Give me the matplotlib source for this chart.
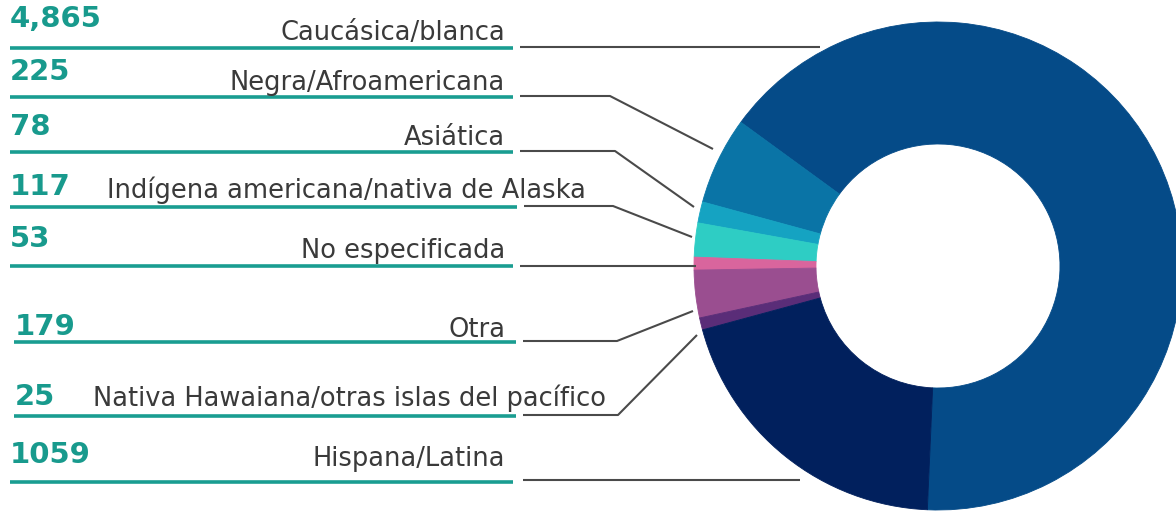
import matplotlib
matplotlib.use("Agg")
import matplotlib.pyplot as plt

# ---------------- data ----------------
categories = [
    "Caucásica/blanca",
    "Negra/Afroamericana",
    "Asiática",
    "Indígena americana/nativa de Alaska",
    "No especificada",
    "Otra",
    "Nativa Hawaiana/otras islas del pacífico",
    "Hispana/Latina",
]
count_labels = ["4,865", "225", "78", "117", "53", "179", "25", "1059"]
# share of the ring as drawn in the reference (percent of 360°)
arc_share_pct = [65.7, 5.8, 1.4, 2.25, 0.85, 3.15, 0.8, 20.1]
colors = ["#054b88", "#0a74a6", "#15a3c2", "#2ecdc4",
          "#d9659d", "#9a4e90", "#5a2d78", "#01205d"]

# ---------------- layout (pixel space, y measured from top) ----------------
W, H = 1176, 512
fig = plt.figure(figsize=(W / 100, H / 100), dpi=100)
ax = fig.add_axes([0, 0, 1, 1])

def Y(y):
    return H - y

cx, cy, R = 938, 266, 244
ax.pie(arc_share_pct, colors=colors, startangle=-92.5, counterclock=True,
       center=(cx, Y(cy)), radius=R,
       wedgeprops=dict(width=R * 0.5, linewidth=0.6),
       frame=True)
for w, c in zip(ax.patches, colors):
    w.set_edgecolor(c)
ax.set_xlim(0, W)
ax.set_ylim(0, H)
ax.set_aspect("equal")
ax.axis("off")

teal = "#1a9d91"
num_color = "#189a8d"
text_color = "#3a3a3a"
line_color = "#4a4a4a"

num_base = [27, 80, 135, 195, 247, 335, 405, 463]
num_x = [10, 10, 10, 10, 10, 15, 15, 10]
lab_base = [40, 90, 145, 198, 258, 337, 406, 466]
lab_x = [505, 505, 505, 107, 505, 505, 93, 505]
lab_ha = ["right", "right", "right", "left", "right", "right", "left", "right"]
ul_y = [48, 97, 152, 207, 266, 342, 416, 482]
ul_x0 = [10, 10, 10, 10, 10, 14, 14, 10]
ul_x1 = [513, 513, 513, 517, 513, 516, 516, 513]
# leader lines: start x, kink x, tip (x, y)
lead_start = [520, 520, 520, 524, 520, 523, 523, 523]
lead_kink = [None, 610, 615, 613, None, 617, 618, None]
lead_tip = [(820, 47), (713, 149), (694, 207), (692, 237),
            (696, 266), (693, 311), (697, 335), (800, 480)]

for i, cat in enumerate(categories):
    ax.text(num_x[i], Y(num_base[i]), count_labels[i], fontsize=21,
            fontweight="bold", color=num_color, ha="left", va="baseline",
            family="DejaVu Sans")
    ax.text(lab_x[i], Y(lab_base[i]), cat, fontsize=18.5, color=text_color,
            ha=lab_ha[i], va="baseline", family="DejaVu Sans")
    ax.plot([ul_x0[i], ul_x1[i]], [Y(ul_y[i])] * 2, color=teal, lw=2.6,
            solid_capstyle="butt")
    y0 = ul_y[i] - 1
    tx, ty = lead_tip[i]
    if lead_kink[i] is None:
        xs = [lead_start[i], tx]
        ys = [Y(ty), Y(ty)]
    else:
        xs = [lead_start[i], lead_kink[i], tx]
        ys = [Y(y0), Y(y0), Y(ty)]
    ax.plot(xs, ys, color=line_color, lw=1.5, solid_capstyle="butt")

fig.savefig("out.png", dpi=100, facecolor="white")
